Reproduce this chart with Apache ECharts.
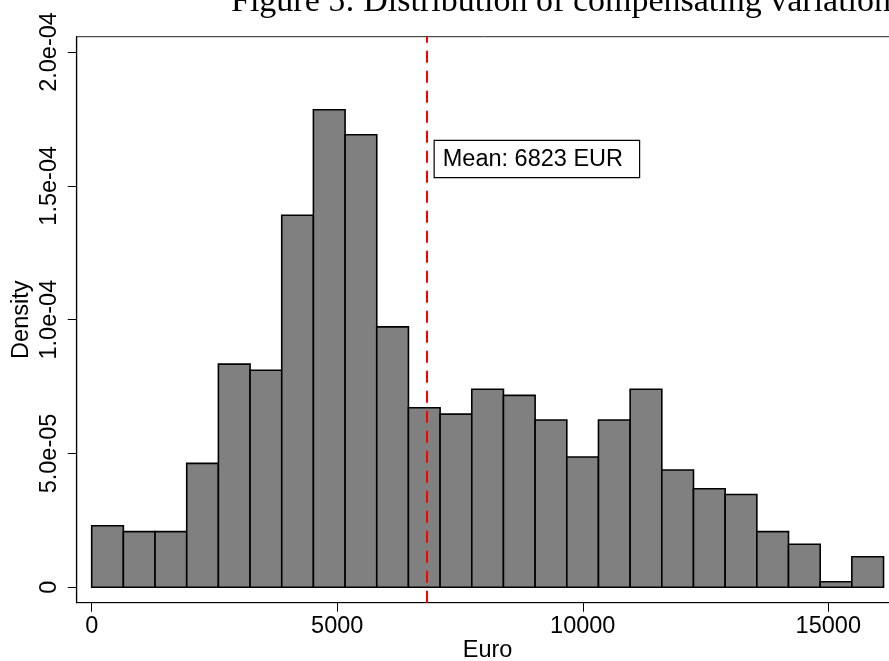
<!DOCTYPE html>
<html>
<head>
<meta charset="utf-8">
<script src="https://cdn.jsdelivr.net/npm/echarts@6/dist/echarts.min.js"></script>
<style>
html,body{margin:0;padding:0;background:#fff;}
#chart{width:889px;height:661px;}
</style>
</head>
<body>
<div id="chart"></div>
<script>
// ---- data ----
const titleText = 'Figure 5: Distribution of compensating variation';
const binEdges = [0, 645, 1290, 1935, 2580, 3225, 3870, 4515, 5160, 5805, 6450, 7095, 7740,
  8385, 9030, 9675, 10320, 10965, 11610, 12255, 12900, 13545, 14190, 14835, 15480, 16125];
const densities = [2.30e-5, 2.08e-5, 2.08e-5, 4.63e-5, 8.34e-5, 8.11e-5, 13.90e-5, 17.84e-5,
  16.91e-5, 9.73e-5, 6.71e-5, 6.47e-5, 7.40e-5, 7.17e-5, 6.25e-5, 4.87e-5, 6.25e-5, 7.40e-5,
  4.38e-5, 3.68e-5, 3.47e-5, 2.08e-5, 1.61e-5, 0.21e-5, 1.14e-5];
const meanValue = 6823;
const meanLabel = 'Mean: 6823 EUR';
const xTickValues = [0, 5000, 10000, 15000];
const xTickLabels = ['0', '5000', '10000', '15000'];
const yTickValues = [0, 5e-5, 1e-4, 1.5e-4, 2e-4];
const yTickLabels = ['0', '5.0e-05', '1.0e-04', '1.5e-04', '2.0e-04'];
const xAxisName = 'Euro';
const yAxisName = 'Density';

const histData = densities.map((d, i) => [binEdges[i], binEdges[i + 1], d]);

function lookup(values, labels, v) {
  let best = 0;
  for (let i = 1; i < values.length; i++) {
    if (Math.abs(values[i] - v) < Math.abs(values[best] - v)) best = i;
  }
  return labels[best];
}

const FONT = '"Liberation Sans", Arial, Helvetica, sans-serif';
const FS = 23.5;

const chart = echarts.init(document.getElementById('chart'), null, {renderer: 'canvas'});
chart.setOption({
  animation: false,
  backgroundColor: '#ffffff',
  title: {
    text: titleText,
    left: 231,
    top: -15,
    padding: 0,
    textStyle: {
      fontFamily: '"Liberation Serif", "Times New Roman", serif',
      fontWeight: 'normal',
      fontSize: 34,
      lineHeight: 34,
      color: '#000'
    }
  },
  grid: {
    left: 76.7,
    top: 36.7,
    width: 821.8,
    height: 566,
    outerBoundsMode: 'none',
    containLabel: false,
    show: true,
    borderColor: '#222',
    borderWidth: 1,
    backgroundColor: '#fff'
  },
  xAxis: {
    type: 'value',
    min: -305.5,
    max: 16430,
    name: xAxisName,
    nameLocation: 'middle',
    nameGap: 36,
    nameMoveOverlap: false,
    nameTextStyle: {fontFamily: FONT, fontSize: FS, color: '#000', lineHeight: FS},
    axisLine: {show: true, onZero: false, lineStyle: {color: '#000', width: 1.2}},
    axisTick: {show: true, length: 9, customValues: xTickValues, lineStyle: {color: '#000', width: 1}},
    axisLabel: {
      customValues: xTickValues,
      margin: 12,
      fontFamily: FONT, fontSize: FS, color: '#000', lineHeight: FS,
      formatter: v => lookup(xTickValues, xTickLabels, v)
    },
    splitLine: {show: false}
  },
  yAxis: {
    type: 'value',
    min: -5.754e-6,
    max: 2.0572e-4,
    name: yAxisName,
    nameLocation: 'middle',
    nameRotate: 90,
    nameGap: 43,
    nameMoveOverlap: false,
    nameTextStyle: {fontFamily: FONT, fontSize: FS, color: '#000', lineHeight: FS},
    axisLine: {show: true, onZero: false, lineStyle: {color: '#000', width: 1.2}},
    axisTick: {show: true, length: 9, customValues: yTickValues, lineStyle: {color: '#000', width: 1}},
    axisLabel: {
      customValues: yTickValues,
      rotate: 90,
      margin: 15,
      fontFamily: FONT, fontSize: FS, color: '#000', lineHeight: FS,
      formatter: v => lookup(yTickValues, yTickLabels, v)
    },
    splitLine: {show: false}
  },
  series: [
    {
      type: 'line',
      z: 1,
      data: [],
      silent: true,
      markLine: {
        silent: true,
        symbol: ['none', 'none'],
        label: {show: false},
        lineStyle: {color: '#ff0000', type: [12, 8], width: 2},
        data: [{xAxis: meanValue}]
      }
    },
    {
      type: 'custom',
      z: 2,
      data: histData,
      encode: {x: [0, 1], y: 2},
      renderItem: function (params, api) {
        const x0 = api.value(0), x1 = api.value(1), y = api.value(2);
        const pTop = api.coord([x0, y]);
        const pBot = api.coord([x1, 0]);
        return {
          type: 'rect',
          shape: {x: pTop[0], y: pTop[1], width: pBot[0] - pTop[0], height: pBot[1] - pTop[1]},
          style: {fill: '#808080', stroke: '#000', lineWidth: 1.6}
        };
      },
      markPoint: {
        symbol: 'rect',
        symbolSize: 0,
        silent: true,
        data: [{coord: [meanValue, 1.6e-4]}],
        label: {
          show: true,
          position: 'right',
          distance: 8,
          formatter: meanLabel,
          fontFamily: FONT,
          fontSize: FS,
          lineHeight: 24,
          color: '#000',
          backgroundColor: '#fff',
          borderColor: '#000',
          borderWidth: 1.2,
          padding: [6, 16, 6, 8]
        }
      }
    }
  ]
});
</script>
</body>
</html>
